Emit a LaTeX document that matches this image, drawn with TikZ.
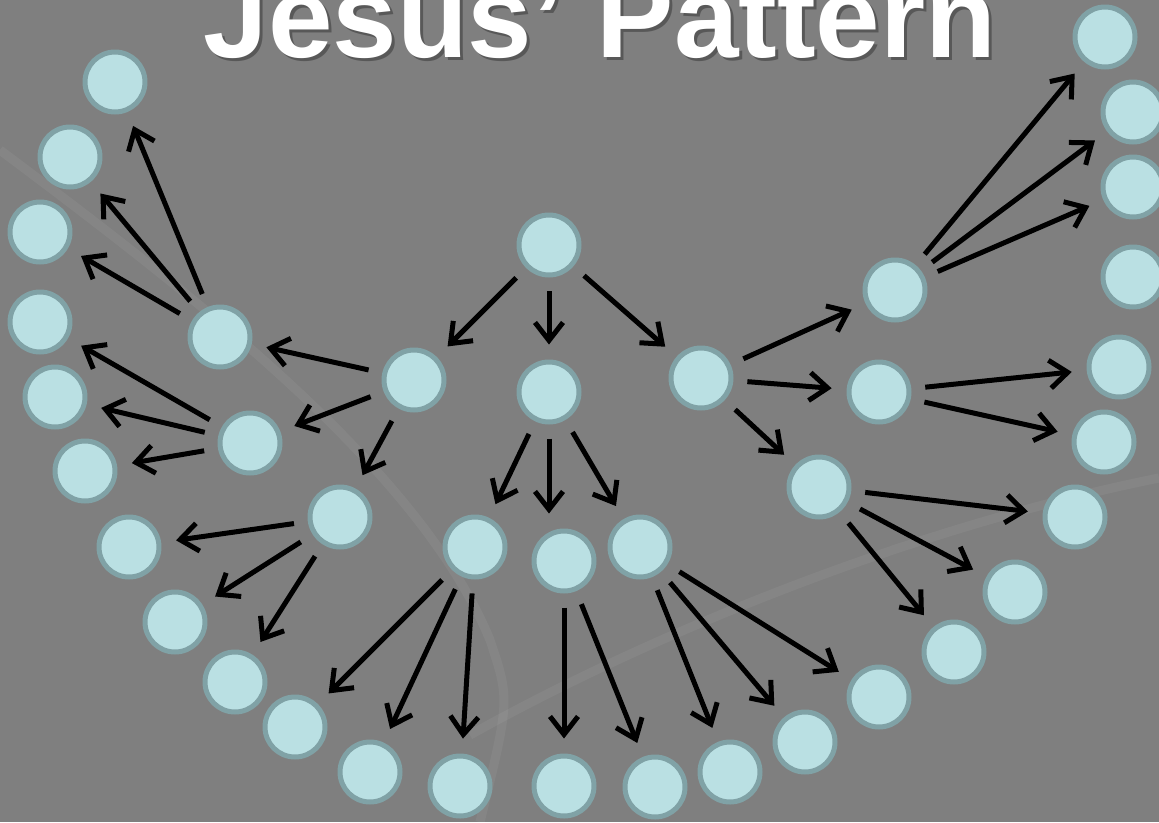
\documentclass[tikz,border=0pt]{standalone}
\usepackage{fontspec}
\setmainfont{Liberation Sans}
\usetikzlibrary{arrows.meta}
\newcommand{\titlefont}{\bfseries\fontsize{66}{70}\selectfont}
\definecolor{slideBg}{HTML}{7F7F7F}
\definecolor{discFill}{HTML}{BAE0E3}
\definecolor{discRim}{HTML}{80A2A6}

\begin{document}
\begin{tikzpicture}[x=0.02cm,y=-0.02cm,
  disc/.style={circle,fill=discFill,draw=discRim,line width=0.1cm,minimum size=1.2cm,inner sep=0pt},
  link/.style={line width=0.1cm,-{Straight Barb[length=0.36cm,width=0.56cm]},shorten <=0.28cm,shorten >=0.3cm},
  streak/.style={draw=white,opacity=0.05,line width=0.18cm}]
  \useasboundingbox (0,0) rectangle (1159,822);
  \clip (0,0) rectangle (1159,822);
  \fill[slideBg] (0,0) rectangle (1159,822);
  % faint streak of the photo behind
  \draw[streak] (0,150) .. controls (200,300) and (420,470) .. (490,640) .. controls (510,700) .. (480,822);
  \draw[streak] (470,735) .. controls (640,640) and (900,530) .. (1159,478);

  % title
  \node[text=black,opacity=0.3,font=\titlefont,anchor=base] at (603,60) {Jesus’ Pattern};
  \node[text=white,font=\titlefont,anchor=base] (title) at (600,57) {Jesus’ Pattern};

  % first three generations
  \node[disc] (r) at (549,245) {};
  \node[disc] (a) at (414,380) {};
  \node[disc] (b) at (549,392) {};
  \node[disc] (c) at (701,378) {};
  \node[disc] (a1) at (220,337) {};
  \node[disc] (a2) at (250,443) {};
  \node[disc] (a3) at (340,517) {};
  \node[disc] (b1) at (475,547) {};
  \node[disc] (b2) at (564,561) {};
  \node[disc] (b3) at (640,547) {};
  \node[disc] (c1) at (895,290) {};
  \node[disc] (c2) at (879,392) {};
  \node[disc] (c3) at (819,487) {};

  % outer ring
  \node[disc] (l1) at (115,82) {};
  \node[disc] (l2) at (70,157) {};
  \node[disc] (l3) at (40,232) {};
  \node[disc] (l4) at (40,322) {};
  \node[disc] (l5) at (55,397) {};
  \node[disc] (l6) at (85,471) {};
  \node[disc] (l7) at (129,547) {};
  \node[disc] (l8) at (175,622) {};
  \node[disc] (l9) at (235,682) {};
  \node[disc] (l10) at (295,727) {};
  \node[disc] (l11) at (370,772) {};
  \node[disc] (l12) at (460,786) {};
  \node[disc] (l13) at (564,786) {};
  \node[disc] (l14) at (655,787) {};
  \node[disc] (l15) at (730,772) {};
  \node[disc] (l16) at (805,742) {};
  \node[disc] (l17) at (879,697) {};
  \node[disc] (l18) at (954,652) {};
  \node[disc] (l19) at (1015,592) {};
  \node[disc] (l20) at (1075,517) {};
  \node[disc] (l21) at (1104,442) {};
  \node[disc] (l22) at (1119,367) {};
  \node[disc] (l23) at (1133,277) {};
  \node[disc] (l24) at (1133,187) {};
  \node[disc] (l25) at (1133,112) {};
  \node[disc] (l26) at (1105,37) {};

  % arrows
  \draw[link] (r) -- (a);
  \draw[link] (r) -- (b);
  \draw[link] (r) -- (c);
  \draw[link] (a) -- (a1);
  \draw[link] (a) -- (a2);
  \draw[link] (a) -- (a3);
  \draw[link] (b) -- (b1);
  \draw[link] (b) -- (b |- b2.north);
  \draw[link] (b) -- (b3);
  \draw[link] (c) -- (c1);
  \draw[link] (c) -- (c2);
  \draw[link] (c) -- (c3);
  \draw[link] (a1) -- (l1);
  \draw[link] (a1) -- (l2);
  \draw[link] (a1) -- (l3);
  \draw[link] (a2) -- (l4);
  \draw[link] (a2) -- (l5);
  \draw[link] (a2) -- (l6);
  \draw[link] (a3) -- (l7);
  \draw[link] (a3) -- (l8);
  \draw[link] (a3) -- (l9);
  \draw[link] (b1) -- (l10);
  \draw[link] (b1) -- (l11);
  \draw[link] (b1) -- (l12);
  \draw[link] (b2) -- (l13);
  \draw[link] (b2) -- (l14);
  \draw[link] (b3) -- (l15);
  \draw[link] (b3) -- (l16);
  \draw[link] (b3) -- (l17);
  \draw[link] (c3) -- (l18);
  \draw[link] (c3) -- (l19);
  \draw[link] (c3) -- (l20);
  \draw[link] (c2) -- (l21);
  \draw[link] (c2) -- (l22);
  \draw[link] (c1) -- (l24);
  \draw[link] (c1) -- (l25);
  \draw[link] (c1) -- (l26);
\end{tikzpicture}
\end{document}
